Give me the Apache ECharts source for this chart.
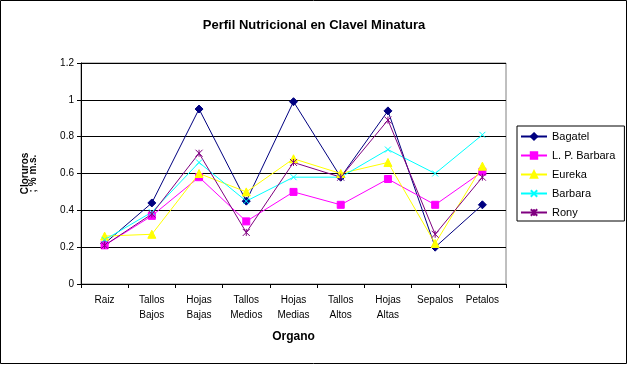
<!DOCTYPE html>
<html>
<head>
<meta charset="utf-8">
<script src="https://cdn.jsdelivr.net/npm/echarts@6/dist/echarts.min.js"></script>
<style>html,body{margin:0;padding:0;background:#fff;}#c{width:628px;height:366px;}</style>
</head>
<body>
<div id="c"></div>
<script>
const categories = ['Raiz','Tallos\nBajos','Hojas\nBajas','Tallos\nMedios','Hojas\nMedias','Tallos\nAltos','Hojas\nAltas','Sepalos','Petalos'];
const yTicks = [0, 0.2, 0.4, 0.6, 0.8, 1, 1.2];
const bagatel   = [0.22, 0.44, 0.95, 0.45, 0.99, 0.58, 0.94, 0.20, 0.43];
const lpBarbara = [0.21, 0.37, 0.58, 0.34, 0.50, 0.43, 0.57, 0.43, 0.61];
const eureka    = [0.26, 0.27, 0.60, 0.50, 0.68, 0.60, 0.66, 0.22, 0.64];
const barbara   = [0.24, 0.39, 0.66, 0.45, 0.58, 0.58, 0.73, 0.60, 0.81];
const rony      = [0.21, 0.38, 0.71, 0.28, 0.66, 0.58, 0.89, 0.27, 0.58];

const seriesNames = ['Bagatel','L. P. Barbara','Eureka','Barbara','Rony'];
const seriesData = [bagatel, lpBarbara, eureka, barbara, rony];
const colors = ['#000080','#FF00FF','#FFFF00','#00FFFF','#800080'];
const symbols = ['diamond','rect','triangle','path://M0,0L10,10M10,0L0,10','path://M0,0L10,10M10,0L0,10M5,0L5,10'];
const sizes = [8, 7, 8, 6, 7];

const font = 'Liberation Sans, Arial, sans-serif';
const chart = echarts.init(document.getElementById('c'), null, {renderer:'canvas'});
chart.setOption({
  backgroundColor: '#fff',
  animation: false,
  title: {
    text: 'Perfil Nutricional en Clavel Minatura',
    left: 'center', top: 14,
    textStyle: {fontFamily: font, fontSize: 13, fontWeight: 'bold', color: '#000'}
  },
  graphic: [{
    type: 'rect', z: -1,
    shape: {x: 0.5, y: 0.5, width: 626, height: 363},
    style: {fill: 'none', stroke: '#000', lineWidth: 1}
  }],
  legend: {
    orient: 'vertical', left: 517, top: 126,
    padding: [5, 9, 3, 3], itemGap: 8, itemWidth: 26, itemHeight: 8,
    borderColor: '#000', borderWidth: 1,
    textStyle: {fontFamily: font, fontSize: 11, color: '#000'},
    data: seriesNames
  },
  grid: {left: 81, top: 63, width: 425, height: 221, show: true, borderColor: '#808080', borderWidth: 1},
  xAxis: {
    type: 'category', data: categories, boundaryGap: true,
    axisLine: {lineStyle: {color: '#000', width: 1}},
    axisTick: {show: true, length: 4, alignWithLabel: false, lineStyle: {color: '#000'}},
    axisLabel: {fontFamily: font, fontSize: 10, color: '#000', margin: 9, lineHeight: 15, interval: 0},
    name: 'Organo', nameLocation: 'middle', nameGap: 47,
    nameTextStyle: {fontFamily: font, fontSize: 12, fontWeight: 'bold', color: '#000'}
  },
  yAxis: {
    type: 'value', min: 0, max: 1.2, interval: 0.2,
    axisLine: {show: true, lineStyle: {color: '#000', width: 1}},
    axisTick: {show: true, length: 4, lineStyle: {color: '#000'}},
    axisLabel: {fontFamily: font, fontSize: 10, color: '#000', margin: 7,
      formatter: v => { const t = yTicks.find(x => Math.abs(x - v) < 1e-9); return String(t !== undefined ? t : v); }},
    splitLine: {show: true, lineStyle: {color: '#000', width: 1}},
    name: 'Cloruros\n; % m.s.', nameLocation: 'middle', nameRotate: 90, nameGap: 44,
    nameTextStyle: {fontFamily: font, fontSize: 10, fontWeight: 'bold', color: '#000', lineHeight: 8}
  },
  series: seriesNames.map((n, i) => ({
    name: n, type: 'line', data: seriesData[i],
    symbol: symbols[i], symbolSize: sizes[i],
    lineStyle: {color: colors[i], width: 1},
    itemStyle: {color: colors[i], borderColor: colors[i], borderWidth: 1},
    emphasis: {disabled: true}
  }))
});
</script>
</body>
</html>
